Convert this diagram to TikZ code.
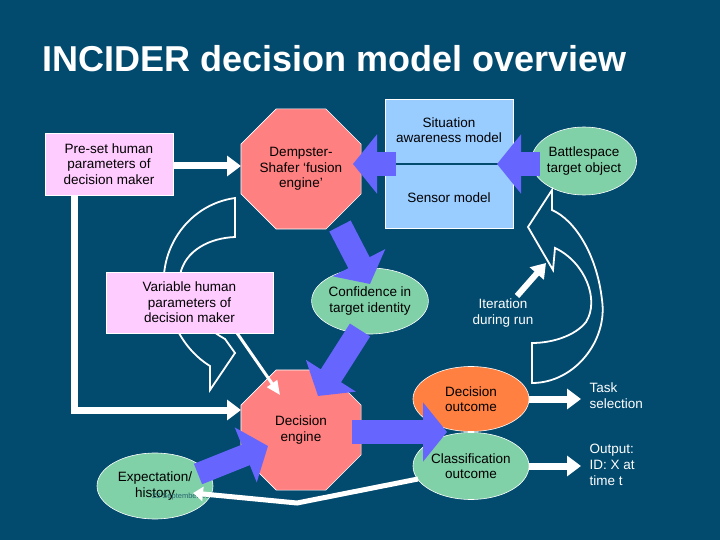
\documentclass[tikz,border=0pt]{standalone}
\usepackage{fontspec}
\setmainfont{Liberation Sans}
\usetikzlibrary{shapes.geometric,arrows.meta}
\definecolor{bg}{RGB}{2,74,110}
\definecolor{pinkbox}{RGB}{255,204,255}
\definecolor{redoct}{RGB}{255,128,128}
\definecolor{lblue}{RGB}{153,204,255}
\definecolor{fblue}{RGB}{102,102,255}
\definecolor{gr}{RGB}{128,208,168}
\definecolor{orng}{RGB}{255,128,64}
\definecolor{datec}{RGB}{40,100,110}
\begin{document}
\begin{tikzpicture}[x=1pt,y=-1pt,
  txt/.style={font=\fontsize{13.5}{15.5}\selectfont,align=center,text=black},
  wtxt/.style={font=\fontsize{13.5}{16}\selectfont,align=left,text=white},
  pbox/.style={txt,draw=white,line width=0.6pt,fill=pinkbox,inner sep=0pt},
  oct/.style={txt,regular polygon,regular polygon sides=8,draw=white,line width=0.6pt,fill=redoct,minimum size=130pt,inner sep=0pt},
  ell/.style={txt,ellipse,draw=white,line width=0.6pt,fill=gr,inner sep=0pt},
  fat/.style={draw=fblue,line width=24pt,-{Triangle[width=58pt,length=24pt]}},
  wthick/.style={draw=white,line width=7pt,-{Triangle[width=20pt,length=14pt]}},
  hollow/.style={draw=white,line width=1.8pt,line join=miter}]
\fill[bg] (0,0) rectangle (720,540);
\useasboundingbox (0,0) rectangle (720,540);
\node[anchor=base west,text=white,font=\bfseries\fontsize{36}{40}\selectfont,inner sep=0pt] (title) at (42,72) {INCIDER decision model overview};

% situation box
\node[draw=white,line width=0.6pt,fill=lblue,minimum width=128pt,minimum height=129pt,inner sep=0pt] (sit) at (449,163.5) {};
\node[txt] (sitt) at (449,130) {Situation\\awareness model};
\node[txt] (sens) at (449,198) {Sensor model};

% nodes
\node[pbox,minimum width=128pt,minimum height=62pt] (pre) at (109,164) {Pre-set human\\parameters of\\decision maker};
\node[oct] (ds) at (301,169) {Dempster-\\Shafer `fusion\\engine'};
\node[ell,minimum width=92pt,minimum height=68pt] (bat) at (584,161) {Battlespace\\target object};
\node[ell,minimum width=90pt,minimum height=66pt] (conf) at (370,301) {Confidence in\\target identity};
\node[oct] (de) at (301,430) {Decision\\engine};
\node[ell,fill=orng,minimum width=116pt,minimum height=65pt] (dout) at (471,399) {Decision\\outcome};
\node[ell,minimum width=116pt,minimum height=67pt] (cout) at (471,466) {Classification\\outcome};
\node[ell,minimum width=116pt,minimum height=66pt] (exp) at (155,486) {Expectation/\\history};
\node[text=datec,font=\fontsize{7.5}{8}\selectfont] (date) at (185,497) {23 September 2005};

% dark line in situation box
\draw[bg,line width=2pt] (395,164) -- (500,164);
% fat blue arrows
\coordinate (s1) at (396,164);
\coordinate (s2) at (540,164);
\draw[fat] (s1) -- (353,164);
\draw[fat] (s2) -- (497,164);
\coordinate (a1) at (340,226);
\coordinate (a2) at (370,284);
\draw[fat] (a1) -- (a2);
\coordinate (b1) at (360,330);
\coordinate (b2) at (318,396);
\draw[fat] (b1) -- (b2);
\coordinate (c1) at (352,432);
\coordinate (c2) at (447,432);
\draw[fat] (c1) -- (c2);
\coordinate (e1) at (198,474);
\coordinate (e2) at (268,446);
\draw[fat,line width=22pt] (e1) -- (e2);

% hollow curved arrows
\draw[hollow] (235,198) .. controls (185,205) and (155,255) .. (166,300) .. controls (175,335) and (192,355) .. (210,366) -- (210,390) -- (235,353) -- (225,339) .. controls (200,325) and (178,300) .. (180,275) .. controls (185,250) and (210,238) .. (235,237) -- cycle;
\draw[hollow] (552,190) -- (528,227) -- (553,270) -- (555,248) .. controls (585,262) and (600,300) .. (586,322) .. controls (575,336) and (552,343) .. (532,343) -- (532,383) .. controls (575,383) and (608,340) .. (602,300) .. controls (597,255) and (575,220) .. (552,210) -- cycle;

% white arrows
\draw[wthick] (pre.east |- 0,166) -- (241,166);
\draw[white,line width=7pt] (74,195) -- (74,410) -- (230,410);
\draw[wthick] (74,410) -- (241,410);
\coordinate (it1) at (517,296);
\draw[draw=white,line width=6pt,-{Triangle[width=18pt,length=14pt]}] (it1) -- (546,263);
\draw[white,line width=3pt,-{Triangle[width=12pt,length=14pt]}] (237,333) -- (280,395);
\draw[wthick] (dout.east) -- (581,399);
\draw[wthick] (cout.east) -- (581,466);
\coordinate (r1) at (297,503);
\draw[white,line width=5pt,-{Triangle[width=14pt,length=10pt]}] (418,479) -- (r1) -- (193,493);

% labels
\node[wtxt,anchor=north west] (task) at (586,379) {Task\\selection};
\node[wtxt,anchor=north west] (outp) at (586,441) {Output:\\ID: X at\\time t};
\node[txt,text=white] (iter) at (503,313) {Iteration\\during run};

% variable box on top
\node[pbox,minimum width=167pt,minimum height=61pt] (var) at (189.5,302.5) {Variable human\\parameters of\\decision maker};
\end{tikzpicture}
\end{document}
